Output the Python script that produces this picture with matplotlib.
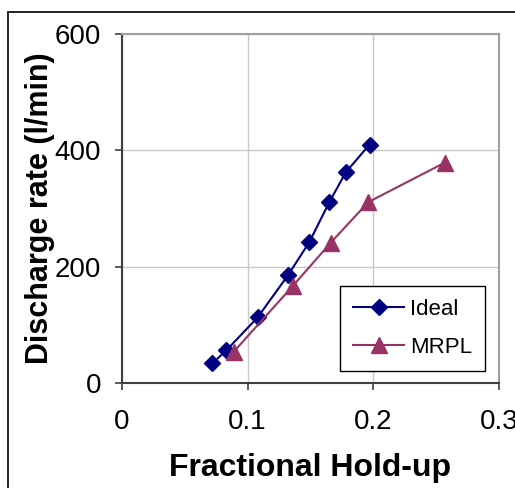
import matplotlib
matplotlib.use("Agg")
import matplotlib.pyplot as plt
from matplotlib.patches import Rectangle

# --- Data ---
ideal_x = [0.072, 0.083, 0.108, 0.132, 0.149, 0.165, 0.178, 0.197]
ideal_y = [34, 56, 113, 185, 242, 311, 362, 410]
mrpl_x = [0.089, 0.136, 0.166, 0.196, 0.257]
mrpl_y = [54, 167, 241, 311, 379]
x_ticks = [0, 0.1, 0.2, 0.3]
x_tick_labels = ["0", "0.1", "0.2", "0.3"]
y_ticks = [0, 200, 400, 600]

plt.rcParams["font.family"] = ["Liberation Sans", "DejaVu Sans"]

W, H = 515, 488
fig = plt.figure(figsize=(W / 100, H / 100), dpi=100)
ax = fig.add_axes([122 / W, 1 - 383 / H, (499 - 122) / W, (383 - 34) / H])

# outer frame, cut off at right and bottom like the original
fig.patches.append(Rectangle((8 / W, -0.05), 1.1, 1 - 12 / H + 0.05,
                             transform=fig.transFigure, fill=False,
                             edgecolor="black", linewidth=1.2))

ax.plot(ideal_x, ideal_y, color="#000080", marker="D", markersize=8,
        linewidth=1.5, label="Ideal", clip_on=False, zorder=3)
ax.plot(mrpl_x, mrpl_y, color="#993366", marker="^", markersize=11,
        linewidth=1.5, label="MRPL", clip_on=False, zorder=3)

ax.set_xlim(0, 0.3)
ax.set_ylim(0, 600)
ax.set_xticks(x_ticks)
ax.set_xticklabels(x_tick_labels)
ax.set_yticks(y_ticks)
ax.grid(True, color="#c8c8c8", linewidth=1)
ax.set_axisbelow(True)

for side in ["top", "right"]:
    ax.spines[side].set_color("#a0a0a0")
    ax.spines[side].set_linewidth(1.5)
for side in ["left", "bottom"]:
    ax.spines[side].set_color("#404040")
    ax.spines[side].set_linewidth(1.5)

ax.tick_params(axis="both", direction="out", length=5, width=1.2,
               color="#404040", labelsize=20)
ax.tick_params(axis="x", pad=14)
ax.tick_params(axis="y", pad=10)

ax.set_xlabel("Fractional Hold-up", fontsize=23, fontweight="bold", labelpad=13)
ax.set_ylabel("Discharge rate (l/min)", fontsize=22, fontweight="bold", labelpad=0)

leg = ax.legend(loc="lower right", bbox_to_anchor=(485 / W, 1 - 371 / H),
                bbox_transform=fig.transFigure, borderaxespad=0,
                fontsize=16, frameon=True,
                fancybox=False, edgecolor="black", framealpha=1,
                handlelength=2.3, labelspacing=0.75, borderpad=0.6,
                handletextpad=0.25)
leg.get_frame().set_linewidth(1.0)

fig.savefig("out.png", dpi=100)
